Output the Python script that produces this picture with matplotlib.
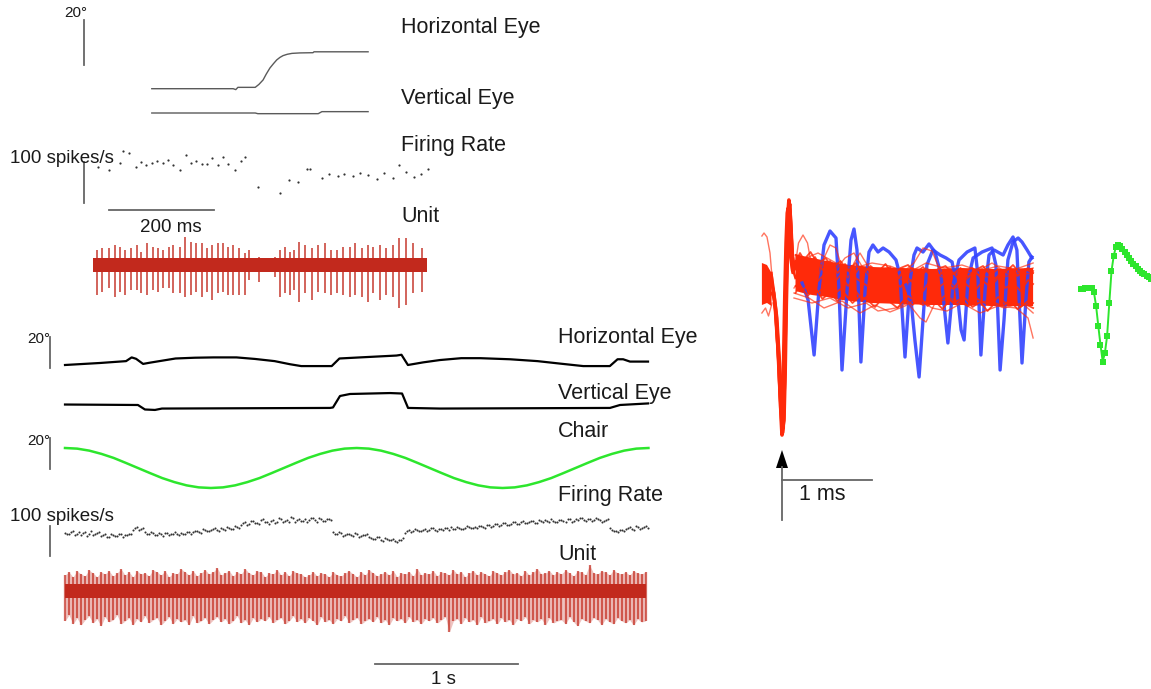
import numpy as np
import matplotlib
matplotlib.use("Agg")
import matplotlib.pyplot as plt
from matplotlib.patches import Polygon

W, H = 1151, 689
nan = np.nan

# ---------------- saccade trial (ms, deg, spikes/s, uV) ----------------
sacc_h_t = [112, 267, 272, 276, 309, 316, 324, 330, 337, 344, 350, 356, 362, 370, 379, 394, 419, 421, 524]
sacc_h = [0, 0, -0.4, 0.6, 0.6, 1.9, 3.9, 6.5, 9.2, 11.2, 12.8, 13.9, 14.7, 15.3, 15.7, 15.9, 16.0, 16.4, 16.4]
sacc_v_t = [112, 309, 314, 429, 436, 524]
sacc_v = [0, 0, -0.3, -0.3, 0.6, 0.6]

sacc_rate_t = [10, 31, 51, 58, 69, 82, 91, 101, 112, 121, 133, 142, 153, 166, 177, 187, 196, 207, 218, 227,
               239, 248, 258, 271, 281, 290, 315, 356, 373, 391, 407, 413, 436, 450, 466, 479, 495, 509, 523, 540,
               554, 571, 582, 596, 611, 625, 639]
sacc_rate = [89, 80, 98, 127, 121, 87, 100, 93, 97, 102, 97, 105, 93, 80, 117, 98, 102, 94, 94, 109,
             93, 112, 94, 80, 103, 113, 40, 25, 56, 52, 83, 83, 60, 70, 66, 70, 66, 72, 68, 59,
             72, 60, 93, 75, 63, 71, 83]

sacc_spike_t = [7, 18, 30, 41, 51, 60, 72, 83, 91, 102, 114, 124, 134, 144, 153, 166, 176, 187, 197, 208,
                218, 227, 239, 247, 258, 267, 279, 290, 297, 316, 347, 356, 366, 375, 382, 392, 404, 418, 429, 442,
                453, 464, 477, 489, 499, 512, 523, 534, 547, 559, 572, 583, 596, 609, 626]
sacc_spike_up = [75, 83, 83, 100, 92, 75, 83, 100, 67, 108, 92, 83, 75, 92, 100, 92, 142, 117, 108, 108,
                 83, 100, 108, 108, 92, 100, 83, 58, 75, 42, 42, 75, 92, 67, 75, 117, 100, 83, 100, 108,
                 75, 75, 92, 92, 108, 83, 100, 92, 100, 83, 100, 133, 133, 108, 83]
sacc_spike_dn = [-150, -133, -117, -158, -133, -150, -125, -125, -142, -150, -125, -133, -117, -117, -142, -142, -158, -150, -133, -158,
                 -133, -175, -142, -133, -150, -150, -150, -150, -75, -83, -58, -158, -142, -150, -125, -183, -142, -175, -133, -142,
                 -150, -142, -150, -158, -150, -158, -183, -142, -175, -150, -158, -217, -200, -142, -133]
sacc_unit_span = [0, 636]
sacc_noise = 37

# ---------------- sinusoidal rotation (s, deg, spikes/s, uV) ----------------
rot_h_t = [0.000, 0.245, 0.427, 0.466, 0.497, 0.546, 0.594, 0.773, 0.909, 1.039, 1.199, 1.329, 1.466, 1.573, 1.652,
           1.865, 1.919, 2.063, 2.318, 2.353, 2.398, 2.505, 2.622, 2.771, 2.904, 3.112, 3.304, 3.462, 3.624,
           3.810, 3.864, 3.903, 3.951, 4.077]
rot_h = [0.0, 1.3, 2.5, 4.9, 4.0, 0.7, 1.5, 4.2, 4.7, 4.9, 4.9, 3.9, 2.5, 0.5, -0.7,
         -0.7, 4.2, 4.9, 6.1, 6.6, 0.0, 1.7, 3.2, 4.4, 4.4, 3.7, 2.5, 0.9, -0.7,
         -0.7, 3.7, 3.7, 2.2, 2.2]
rot_v_t = [0.000, 0.510, 0.559, 0.629, 0.678, 1.853, 1.874, 1.923, 1.993, 2.273, 2.357, 2.399, 2.622, 3.811, 3.881, 4.077]
rot_v = [1.6, 1.3, -1.6, -1.9, -1.0, -0.6, -0.3, 7.1, 8.4, 9.0, 8.7, -0.6, -1.0, -0.6, 1.3, 2.3]

chair_dt = 0.085
chair_deg = [12.9, 12.5, 11.2, 9.1, 6.5, 3.3, 0.0, -3.3, -6.5, -9.1, -11.2, -12.5, -12.9, -12.5, -11.2, -9.1,
             -6.5, -3.3, 0.0, 3.3, 6.5, 9.1, 11.2, 12.5, 12.9, 12.5, 11.2, 9.1, 6.5, 3.3, 0.0, -3.3,
             -6.5, -9.1, -11.2, -12.5, -12.9, -12.5, -11.2, -9.1, -6.5, -3.3, 0.0, 3.3, 6.5, 9.1, 11.2, 12.5, 12.9]

rot_bin = 0.028
rot_rate = [78, 72, 84, 75, 69, 80, 74, 71, 77,
            68, 73, 64, 70, 66, 75, 69, 72,
            88, 97, 90,
            79, 72, 76, 70, 74, 78, 69, 75, 72, 77, 73, 79,
            80, 84, 78, 88, 83, 90, 86, 93, 88, 95, 91, 97,
            105, 112, 108, 116, 110, 119, 113, 108, 121, 115, 124, 118, 112, 127, 120, 116, 125, 119, 128, 114, 122, 117, 124,
            80, 72, 77, 70, 75, 68, 72, 66, 70,
            65, 58, 62, 55, 60, 52, 57, 48, 53,
            78, 86, 82, 88,
            84, 90, 86, 92, 85, 89, 94, 87, 91, 96, 89, 93, 98, 92, 95,
            100, 95, 104, 99, 108, 102, 110, 105, 112, 107, 115, 109, 113, 118, 110, 116, 120, 112, 118, 114,
            121, 115, 124, 117, 120, 126, 116, 122, 119, 125, 114, 120,
            92, 84, 80, 86,
            90, 96, 88, 98, 93, 100]
# second estimate per bin, half a bin later
rot_rate2 = [74, 81, 70, 79, 76, 68, 82, 73, 79,
             71, 65, 74, 67, 72, 63, 70, 74,
             93, 86, 95,
             73, 80, 71, 77, 68, 76, 73, 80, 70, 75, 79, 74,
             85, 79, 90, 82, 87, 92, 84, 91, 96, 89, 99, 93,
             109, 103, 117, 111, 106, 122, 114, 118, 110, 126, 113, 121, 129, 115, 123, 118, 112, 126, 121, 128, 116, 125, 119,
             75, 79, 68, 74, 71, 77, 65, 69, 73,
             61, 56, 64, 50, 58, 54, 49, 55, 60,
             83, 79, 90, 85,
             88, 83, 95, 88, 91, 86, 92, 97, 89, 94, 90, 99, 94, 97, 100,
             97, 103, 98, 106, 101, 111, 104, 108, 113, 106, 117, 111, 116, 109, 121, 114, 117, 122, 115, 119,
             118, 125, 113, 122, 127, 119, 123, 117, 128, 121, 118, 124,
             88, 82, 87, 83,
             94, 89, 99, 91, 97, 95]

rot_unit_up = [80, 95, 70, 100, 85, 75, 105, 90, 70, 95, 85, 100, 75, 90, 110, 80, 95, 70, 100, 85,
               90, 75, 105, 95, 80, 100, 70, 90, 85, 110, 95, 80, 100, 75, 90, 105, 85, 95, 115, 80,
               90, 100, 75, 95, 85, 110, 90, 80, 100, 95, 70, 90, 85, 105, 80, 95, 75, 100, 90, 85,
               70, 80, 95, 75, 90, 85, 70, 95, 80, 75, 90, 100, 85, 70, 95, 80, 105, 90, 75, 85,
               95, 80, 100, 70, 90, 85, 95, 75, 110, 80, 90, 85, 100, 75, 95, 90, 80, 105, 85, 95,
               70, 90, 100, 80, 95, 85, 75, 100, 90, 80, 95, 105, 85, 90, 75, 100, 80, 95, 110, 85,
               90, 100, 80, 95, 85, 105, 90, 75, 100, 95, 80, 130, 90, 85, 100, 95, 80, 105, 90, 85,
               95, 80, 100, 90, 85, 95]
rot_unit_dn = [-150, -120, -165, -135, -170, -145, -125, -160, -140, -175, -130, -155, -145, -120, -165, -150, -135, -170, -140, -155,
               -125, -160, -145, -135, -170, -150, -130, -165, -140, -155, -145, -170, -125, -160, -150, -135, -165, -145, -130, -155,
               -140, -165, -150, -125, -160, -145, -170, -135, -155, -140, -150, -130, -160, -145, -135, -165, -150, -125, -155, -140,
               -160, -135, -150, -170, -130, -155, -145, -165, -140, -150, -125, -160, -145, -135, -165, -150, -140, -155, -130, -160,
               -145, -170, -135, -150, -140, -160, -130, -155, -145, -165, -140, -150, -135, -160, -145, -130, -205, -150, -140, -165,
               -135, -155, -145, -170, -130, -160, -150, -140, -165, -135, -155, -145, -170, -140, -150, -130, -165, -145, -155, -140,
               -170, -135, -160, -150, -145, -165, -130, -155, -175, -140, -150, -160, -135, -145, -170, -140, -155, -165, -135, -150,
               -160, -145, -170, -140, -155, -150]
rot_noise = 36

# ---------------- superimposed waveforms (samples at 30 kHz, uV) ----------------
wf_env_t = [-6.7, -5, -3.5, -3.2, 4.2, 4.5, 7, 10, 15, 20, 30, 40, 50, 60, 70, 83.7]
wf_env_hi = [40, 36, 20, nan, nan, 58, 54, 50, 44, 38, 32, 30, 28, 30, 28, 30]
wf_env_lo = [-44, -40, -46, nan, nan, -16, -20, -24, -28, -34, -40, -42, -44, -44, -46, -46]

wf_spikes = [
    ([-3.5, -3, -2, -1, -0.3, 0, 0.4, 0.8, 1.2, 1.6, 2, 2.3, 2.7, 3.2, 3.7, 4.5],
     [10, -10, -60, -160, -270, -304, -290, -200, -60, 60, 140, 166, 140, 70, 30, 40]),
    ([-3.5, -3.2, -2.3, -1.3, -0.6, -0.2, 0.2, 0.6, 1, 1.4, 1.8, 2.1, 2.5, 3, 3.5, 4.5],
     [20, 0, -50, -150, -250, -280, -260, -170, -40, 70, 130, 150, 120, 60, 20, 30]),
    ([-3.5, -2.7, -1.7, -0.7, 0, 0.3, 0.7, 1.1, 1.5, 1.9, 2.3, 2.6, 3, 3.5, 4, 4.5],
     [-20, -30, -80, -180, -260, -300, -270, -170, -30, 80, 150, 160, 120, 60, 20, 10]),
    ([-3.5, -3.4, -2.6, -1.6, -0.9, -0.5, -0.1, 0.3, 0.7, 1.1, 1.5, 1.8, 2.2, 2.7, 3.3, 4.5],
     [16, 5, -40, -130, -220, -250, -235, -150, -20, 80, 140, 150, 110, 50, 24, 44]),
    ([-3.5, -2.5, -1.5, -0.5, 0.2, 0.5, 0.9, 1.3, 1.7, 2.1, 2.5, 2.8, 3.2, 3.7, 4.2, 4.5],
     [0, -20, -70, -170, -250, -290, -275, -180, -40, 70, 145, 158, 115, 55, 30, 40]),
]

wf_fringe = [
    ([-6.7, -6, -5, -4, -3.3], [94, 100, 92, 60, 10]),
    ([-6.7, -5.5, -4.5, -3.3], [-60, -50, -66, -40]),
    ([4, 5.5, 7, 8.5, 10, 12, 14, 16, 18, 20, 22, 24, 26, 28, 31, 36, 42, 48, 54, 60, 70, 83.7],
     [20, 80, 96, 80, 30, 10, 50, 76, 70, 30, 10, 40, 60, 40, 10, 20, 0, 30, 10, 24, 10, 20]),
    ([4, 8, 12, 17, 21, 24, 27, 32, 38, 44, 47, 50, 53, 58, 64, 70, 76, 83.7],
     [-10, 20, 40, 20, 50, 60, 30, -10, 10, 40, 70, 64, 20, -10, 20, 40, 16, 30]),
    ([4, 10, 16, 22, 28, 32, 38, 42, 46, 48, 51, 56, 62, 68, 74, 80, 83.7],
     [-30, -40, -30, -50, -40, -56, -50, -40, -70, -78, -40, -30, -46, -36, -50, -40, -60]),
    ([4, 9, 14, 20, 26, 31, 36, 41, 45, 50, 55, 60, 66, 72, 78, 82, 83.7],
     [-20, -30, -50, -36, -60, -44, -58, -46, -30, -50, -56, -40, -60, -46, -50, -70, -110]),
    ([4, 8, 12, 18, 24, 30, 36, 42, 48, 54, 60, 66, 72, 78, 83.7],
     [30, 50, 60, 40, 30, 40, 34, 20, 40, 30, 36, 24, 34, 28, 40]),
]

# densely overlapping sweeps that make up the noise band
wf_core_t1 = [4.5, 7, 9.5, 12, 14.5, 17, 19.5, 22, 24.5, 27, 29.5, 32, 34.5, 37, 39.5, 42, 44.5,
              47, 49.5, 52, 54.5, 57, 59.5, 62, 64.5, 67, 69.5, 72, 74.5, 77, 79.5, 82, 83.7]
wf_core_t2 = [4.5, 6, 8.5, 11, 13.5, 16, 18.5, 21, 23.5, 26, 28.5, 31, 33.5, 36, 38.5, 41, 43.5,
              46, 48.5, 51, 53.5, 56, 58.5, 61, 63.5, 66, 68.5, 71, 73.5, 76, 78.5, 81, 83.7]
wf_core = [
    (wf_core_t1, [56, 44, 62, 38, 50, 30, 44, 24, 40, 18, 34, 22, 38, 16, 30, 36, 20,
                  32, 14, 28, 34, 18, 30, 12, 26, 34, 16, 28, 22, 36, 18, 30, 24]),
    (wf_core_t1, [-6, -14, 2, -18, -8, -24, -12, -30, -16, -34, -20, -38, -24, -30, -42, -26, -36,
                  -44, -28, -38, -24, -40, -32, -46, -30, -38, -44, -28, -40, -34, -48, -36, -40]),
    (wf_core_t1, [30, 14, 26, 4, 20, -2, 16, -6, 10, 0, -10, 8, -14, 4, -8, 10, -4,
                  -16, 6, -10, 2, -12, 8, -6, -14, 4, -8, 10, -10, 0, -16, 6, -2]),
    (wf_core_t2, [40, 60, 34, 52, 26, 44, 20, 38, 12, 32, 28, 10, 26, 32, 8, 24, 30,
                  14, 26, 6, 22, 28, 10, 24, 30, 12, 26, 8, 24, 30, 14, 28, 20]),
    (wf_core_t2, [-20, -4, -26, -10, -32, -18, -36, -22, -40, -26, -34, -48, -30, -38, -50, -32, -44,
                  -28, -46, -36, -52, -34, -42, -30, -48, -38, -56, -40, -46, -36, -52, -42, -50]),
]

wf_blue = [
    ([6.7, 8.7, 10.7, 12.3, 14, 16, 18, 19, 20, 21.7, 23, 24, 25, 26.3, 27.7, 29, 30.3, 32, 33.7, 35.7,
      38, 39.3, 41, 42.7, 44, 45, 47, 49, 51, 53, 55.3, 57, 59, 61.7, 64.3, 65.3, 66.3, 67.7, 69, 70.7,
      73.7, 75.3, 77, 78.3, 80, 81.3, 82.3, 83.3],
     [0, -34, -144, -14, 76, 104, 90, -14, -174, -14, 86, 108, 66, -158, -14, 62, 76, 62, 70, 62,
      46, 16, -148, 6, 56, 70, 62, 78, 62, 16, -120, -4, 46, 62, 70, 16, -144, -14, 56, 66,
      56, 76, 92, 66, -160, -34, 42, 52]),
    ([41.3, 43, 44.3, 45.7, 47, 48.3, 50.3, 52.7, 54.7, 56.7, 58.3, 59.7, 60.7, 62, 63.7, 66.7, 70, 71.3,
      72.7, 74, 75.3, 77, 78.7, 80, 81.7, 83.3],
     [-4, -34, -114, -188, -74, 36, 66, 56, 50, 42, -14, -94, -114, 6, 50, 62, 70, 36,
      -174, -74, 46, 82, 90, 82, 66, 50]),
]

# mean waveform of the isolated unit, one value per sample
unit_mean = [0, 1, 2, 2, 3, 3, -6, -34, -74, -112, -145, -128, -94, -28, 36, 66, 85, 89, 86, 80,
             74, 68, 63, 57, 51, 46, 41, 37, 33, 30, 27, 24, 20]

# ---------------- figure ----------------
plt.rcParams['font.family'] = ['Liberation Sans', 'DejaVu Sans']
fig = plt.figure(figsize=(W / 100, H / 100), dpi=100)

INK = '#1a1a1a'
BAR = '#666666'
UNIT_RED = '#c2291d'
WF_RED = '#ff2a0a'
WF_BLUE = '#3344ff'
GREEN = '#2de62d'


def trace_axes(x0, px_x, y0, px_y):
    """Transparent full-figure axes: data x=0 at pixel column x0, y=0 at pixel row y0."""
    ax = fig.add_axes([0, 0, 1, 1])
    ax.set_xlim(-x0 / px_x, (W - x0) / px_x)
    ax.set_ylim((y0 - H) / px_y, y0 / px_y)
    ax.axis('off')
    return ax


def label(x, y, s, size=15.5, ha='left'):
    fig.text(x / W, 1 - y / H, s, fontsize=size, color=INK, ha=ha, va='baseline')


# ---- saccade trial ----
ax_eye = trace_axes(93, 0.525, 88.7, 2.25)
ax_eye.plot(sacc_h_t, sacc_h, color='#5a5a5a', lw=1.0)
ax_eye.plot(sacc_v_t, np.array(sacc_v) - 10.8, color='#5a5a5a', lw=1.0)
ax_eye.plot([-17, -17], [10.5, 30.5], color=BAR, lw=1.3)

ax_fr = trace_axes(93, 0.525, 203, 0.41)
ax_fr.plot(sacc_rate_t, sacc_rate, ls='none', marker='o', ms=1.6, mew=0, color='#333333')
ax_fr.plot([-17, -17], [0, 100], color=BAR, lw=1.3)
ax_fr.plot([30.5, 230.5], [-17, -17], color=BAR, lw=1.3)

ax_u = trace_axes(93, 0.525, 265, 0.2)
ax_u.fill_between(sacc_unit_span, -sacc_noise, sacc_noise, color=UNIT_RED, lw=0)
ax_u.vlines(sacc_spike_t, sacc_spike_dn, sacc_spike_up, color=UNIT_RED, lw=1.2, alpha=0.85)

label(87, 17, '20°', size=11, ha='right')
label(10, 163, '100 spikes/s', size=13.5)
label(171, 232, '200 ms', size=13.5, ha='center')
label(401, 33, 'Horizontal Eye')
label(401, 104, 'Vertical Eye')
label(401, 151, 'Firing Rate')
label(401, 222, 'Unit')

# ---- sinusoidal rotation ----
ax_eye2 = trace_axes(65, 143, 365, 1.55)
ax_eye2.plot(rot_h_t, rot_h, color='black', lw=1.6)
ax_eye2.plot(rot_v_t, np.array(rot_v) - 27.1, color='black', lw=1.6)
ax_eye2.plot([-0.105, -0.105], [-1.9, 18.1], color=BAR, lw=1.3)

ax_ch = trace_axes(65, 143, 468, 1.55)
ax_ch.plot(np.arange(len(chair_deg)) * chair_dt, chair_deg, color=GREEN, lw=1.8)
ax_ch.plot([-0.105, -0.105], [-0.65, 19.35], color=BAR, lw=1.3)

ax_fr2 = trace_axes(65, 143, 556, 0.3)
rot_bins = np.arange(len(rot_rate)) * rot_bin
ax_fr2.plot(rot_bins, rot_rate, ls='none', marker='o', ms=1.5, mew=0, color='#333333')
ax_fr2.plot(rot_bins + rot_bin / 2, rot_rate2, ls='none', marker='o', ms=1.5, mew=0, color='#333333')
ax_fr2.plot([-0.105, -0.105], [0, 100], color=BAR, lw=1.3)

ax_u2 = trace_axes(65, 143, 591, 0.2)
rot_t = np.arange(len(rot_unit_up)) * rot_bin
ax_u2.fill_between(rot_t, rot_unit_dn, rot_unit_up, color=UNIT_RED, lw=0, alpha=0.28)
ax_u2.vlines(rot_t, rot_unit_dn, rot_unit_up, color=UNIT_RED, lw=1.6, alpha=0.7)
ax_u2.fill_between([rot_t[0], rot_t[-1]], -rot_noise, rot_noise, color=UNIT_RED, lw=0)
ax_u2.plot([2.17, 3.17], [-365, -365], color=BAR, lw=1.3)

label(50, 343, '20°', size=11, ha='right')
label(50, 445, '20°', size=11, ha='right')
label(10, 521, '100 spikes/s', size=13.5)
label(443, 684, '1 s', size=13.5, ha='center')
label(558, 343, 'Horizontal Eye')
label(558, 399, 'Vertical Eye')
label(558, 437, 'Chair')
label(558, 501, 'Firing Rate')
label(558, 560, 'Unit')

# ---- superimposed waveforms: blue sweeps underneath, red unit on top ----
ax_wf = trace_axes(782, 3, 283, 0.5)
for t, v in wf_blue:
    ax_wf.plot(t, v, color=WF_BLUE, lw=2.4, alpha=0.9)
ax_wf.fill_between(wf_env_t, wf_env_lo, wf_env_hi, color=WF_RED, lw=0)
for t, v in wf_fringe:
    ax_wf.plot(t, v, color=WF_RED, lw=1.0, alpha=0.65)
for t, v in wf_core:
    ax_wf.plot(t, v, color=WF_RED, lw=1.3, alpha=0.85)
for (t, v), w in zip(wf_spikes, [2.6, 1.8, 1.8, 1.5, 1.5]):
    ax_wf.plot(t, v, color=WF_RED, lw=w)

ax_wf.plot([0, 0], [-368, -474], color=BAR, lw=1.3)
ax_wf.plot([0, 30], [-394, -394], color=BAR, lw=1.3)
ax_wf.add_patch(Polygon([[0, -334], [-2, -370], [2, -370]], closed=True, color='black', lw=0))
label(822, 500, '1 ms', ha='center')

ax_m = trace_axes(1080.7, 2.2, 289, 0.5)
ax_m.plot(np.arange(len(unit_mean)), unit_mean, color=GREEN, lw=1.4,
          marker='s', ms=3.8, mew=0)

fig.savefig('out.png', dpi=100)
